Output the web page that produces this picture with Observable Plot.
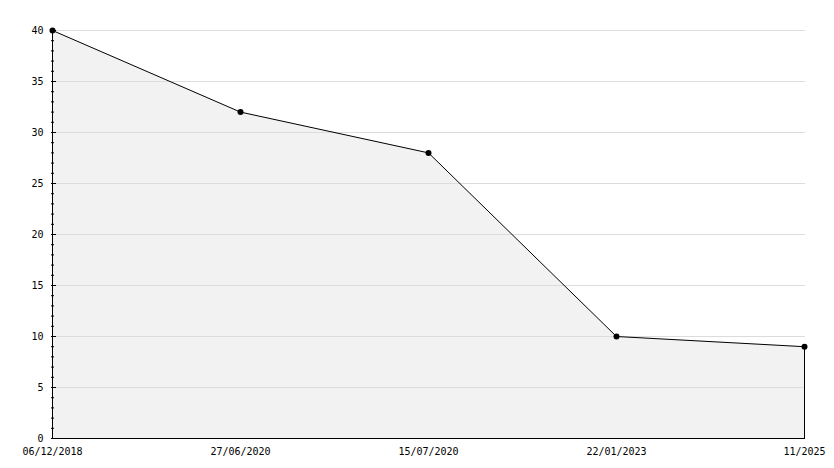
<!DOCTYPE html>
<html>
<head>
<meta charset="utf-8">
<script src="https://cdn.jsdelivr.net/npm/d3@7"></script>
<script src="https://cdn.jsdelivr.net/npm/@observablehq/plot@0.6"></script>
<style>
  html, body { margin: 0; padding: 0; background: #fff; }
</style>
</head>
<body>
<div id="chart"></div>
<script>
const dates = ["06/12/2018", "27/06/2020", "15/07/2020", "22/01/2023", "11/2025"];
const values = [40, 32, 28, 10, 9];
const majorTicks = [0, 5, 10, 15, 20, 25, 30, 35, 40];
const minorTicks = d3.range(0, 41);
const gridTicks = [5, 10, 15, 20, 25, 30, 35, 40];

const data = dates.map((d, i) => ({date: d, value: values[i]}));
const last = data[data.length - 1];

const chart = Plot.plot({
  width: 834,
  height: 468,
  marginLeft: 51,
  marginRight: 29,
  marginTop: 30,
  marginBottom: 30,
  style: {fontFamily: "'DejaVu Sans Mono', monospace", fontSize: "10px", color: "#000", background: "#fff"},
  x: {type: "point", domain: dates, padding: 0, label: null},
  y: {domain: [0, 40], label: null},
  marks: [
    Plot.areaY(data, {x: "date", y: "value", fill: "#f2f2f2"}),
    Plot.ruleY(gridTicks, {stroke: "#dcdcdc", strokeWidth: 1}),
    Plot.lineY(data, {x: "date", y: "value", stroke: "#000", strokeWidth: 1}),
    Plot.ruleX([last], {x: "date", y1: 0, y2: "value", stroke: "#000"}),
    Plot.ruleY([0], {stroke: "#000"}),
    Plot.ruleX([dates[0]], {stroke: "#000"}),
    Plot.axisY({ticks: minorTicks, tickSize: -3, label: null, tickFormat: () => ""}),
    Plot.axisY({ticks: majorTicks, tickSize: -5, tickPadding: 13, label: null, tickFormat: d => String(d)}),
    Plot.axisX({tickSize: 0, tickPadding: 9, label: null}),
    Plot.dot(data, {x: "date", y: "value", r: 3, fill: "#000", symbol: "circle"})
  ]
});
document.getElementById("chart").appendChild(chart);
</script>
</body>
</html>
